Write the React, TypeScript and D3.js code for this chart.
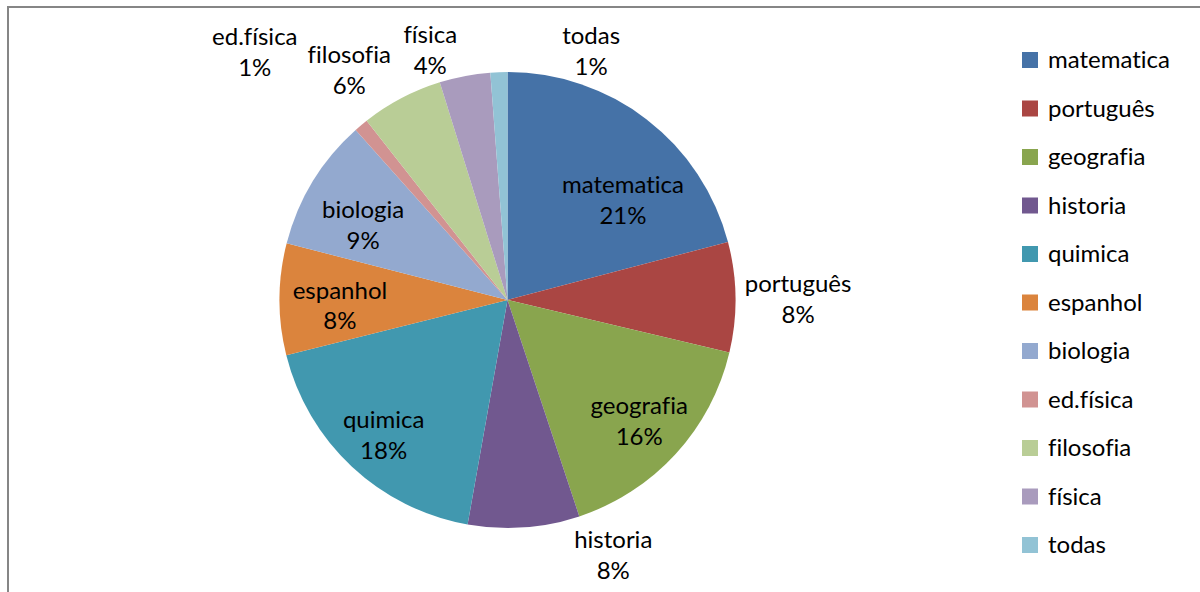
import React from "react";
import * as d3 from "d3";

// subjects and their share (in %)
const categories = [
  "matematica",
  "português",
  "geografia",
  "historia",
  "quimica",
  "espanhol",
  "biologia",
  "ed.física",
  "filosofia",
  "física",
  "todas",
];
const values = [20.9, 7.8, 16.2, 7.9, 18.3, 7.9, 9.4, 1.0, 5.8, 3.6, 1.2];
const colors = [
  "#4572A7",
  "#AA4643",
  "#89A54E",
  "#71588F",
  "#4198AF",
  "#DB843D",
  "#93A9CF",
  "#D19392",
  "#B9CD96",
  "#A99BBD",
  "#92C3D5",
];
// labels drawn inside the slice; the rest sit outside
const insideLabels = ["matematica", "geografia", "quimica", "espanhol", "biologia"];

// small nudges so labels land where Excel put them
const labelNudge: Record<string, [number, number]> = {
  matematica: [18, 26],
  geografia: [14, 13],
  quimica: [-15, 18],
  espanhol: [-8, 6],
  biologia: [-8, 8],
  "português": [17, 2],
  historia: [86, -18],
  "ed.física": [-77, -38],
  filosofia: [-31, 12],
  "física": [-26, 19],
  todas: [94, 24],
};

const width = 1200;
const height = 592;
const cx = 507.5;
const cy = 300;
const radius = 228;
const font = "Lato, 'Open Sans', sans-serif";
const textStyle: React.CSSProperties = { fontVariantLigatures: "none" };

export default function App() {
  const total = d3.sum(values);
  const color = d3.scaleOrdinal<string, string>().domain(categories).range(colors);

  const pie = d3
    .pie<number>()
    .sort(null)
    .value((d) => d);
  const arcs = pie(values);

  const arc = d3.arc<d3.PieArcDatum<number>>().innerRadius(0).outerRadius(radius);
  const inArc = d3
    .arc<d3.PieArcDatum<number>>()
    .innerRadius(radius * 0.7)
    .outerRadius(radius * 0.7);
  const outArc = d3
    .arc<d3.PieArcDatum<number>>()
    .innerRadius(radius * 1.2)
    .outerRadius(radius * 1.2);

  const legendY = d3
    .scalePoint<string>()
    .domain(categories)
    .range([60, 545]);

  return (
    <div style={{ position: "fixed", left: 0, top: 0 }}>
      <svg width={width} height={height} style={{ display: "block", background: "#fff" }}>
        <rect
          x={8}
          y={7}
          width={width + 20}
          height={height + 20}
          fill="#fff"
          stroke="#868686"
          strokeWidth={2}
        />
        <g transform={`translate(${cx},${cy})`}>
          {arcs.map((a, i) => (
            <path key={categories[i]} d={arc(a) || ""} fill={color(categories[i])} />
          ))}
          {arcs.map((a, i) => {
            const name = categories[i];
            const inside = insideLabels.includes(name);
            const [x0, y0] = inside ? inArc.centroid(a) : outArc.centroid(a);
            const [nx, ny] = labelNudge[name] || [0, 0];
            const pct = Math.round((values[i] / total) * 100) + "%";
            return (
              <text
                key={name}
                x={x0 + nx}
                y={y0 + ny}
                textAnchor="middle"
                fontFamily={font}
                fontSize={24}
                fill="#000"
                style={textStyle}
              >
                <tspan x={x0 + nx} dy={-7}>
                  {name}
                </tspan>
                <tspan x={x0 + nx} dy={31}>
                  {pct}
                </tspan>
              </text>
            );
          })}
        </g>
        <g>
          {categories.map((c) => (
            <g key={c} transform={`translate(1022,${legendY(c)})`}>
              <rect x={0} y={-8} width={16} height={16} fill={color(c)} />
              <text x={26} y={8} fontFamily={font} fontSize={24} fill="#000" style={textStyle}>
                {c}
              </text>
            </g>
          ))}
        </g>
      </svg>
    </div>
  );
}
